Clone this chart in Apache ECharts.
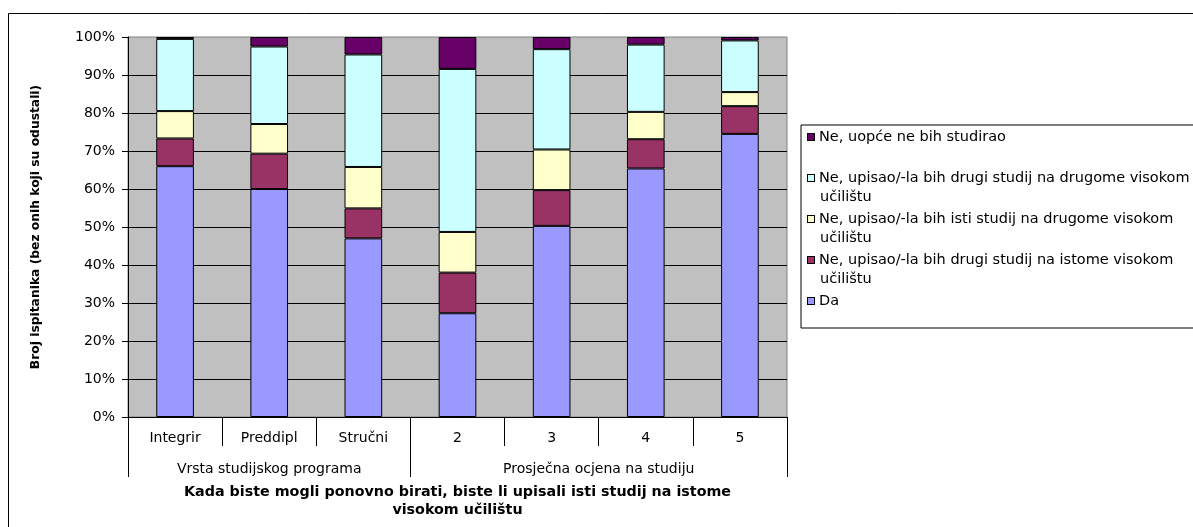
<!DOCTYPE html>
<html><head><meta charset="utf-8">
<script src="https://cdn.jsdelivr.net/npm/echarts@6/dist/echarts.min.js"></script>
<style>html,body{margin:0;padding:0;background:#fff}#c{width:1193px;height:527px}</style>
</head><body><div id="c"></div>
<script>
const categories = ['Integrir', 'Preddipl', 'Stručni', '2', '3', '4', '5'];
const groupNames = ['Vrsta studijskog programa', 'Prosječna ocjena na studiju'];
const groupSizes = [3, 4];

const seriesNames = [
  'Da',
  'Ne, upisao/-la bih drugi studij na istome visokom\nučilištu',
  'Ne, upisao/-la bih isti studij na drugome visokom\nučilištu',
  'Ne, upisao/-la bih drugi studij na drugome visokom\nučilištu',
  'Ne, uopće ne bih studirao'
];
const colors = ['#9999FF', '#993366', '#FFFFCC', '#CCFFFF', '#660066'];

const da         = [66.0, 60.0, 47.0, 27.3, 50.3, 65.4, 74.5];
const drugiIsto  = [7.3, 9.3, 7.9, 10.7, 9.4, 7.7, 7.3];
const istiDrugo  = [7.2, 7.8, 10.9, 10.7, 10.7, 7.2, 3.7];
const drugiDrugo = [19.0, 20.4, 29.6, 42.9, 26.4, 17.7, 13.6];
const uopce      = [0.5, 2.5, 4.6, 8.4, 3.2, 2.0, 0.9];
const seriesData = [da, drugiIsto, istiDrugo, drugiDrugo, uopce];

const yAxisTitle = 'Broj ispitanika (bez onih koji su odustali)';
const xAxisTitle = 'Kada biste mogli ponovno birati, biste li upisali isti studij na istome\nvisokom učilištu';

const FONT = 'DejaVu Sans';

// group boundaries / centers on a 0..N value scale
const bounds = [0];
groupSizes.forEach(s => bounds.push(bounds[bounds.length - 1] + s));
const centers = groupSizes.map((s, i) => bounds[i] + s / 2);

const rich = {
  t: {fontFamily: FONT, fontSize: 14.5, color: '#000', lineHeight: 19},
  sp: {width: 5, lineHeight: 19},
  ind: {width: 12, lineHeight: 19}
};
colors.forEach((c, i) => {
  rich['m' + i] = {width: 6, height: 6, backgroundColor: c, borderColor: '#000', borderWidth: 1, lineHeight: 19};
});

const chart = echarts.init(document.getElementById('c'), null, {renderer: 'canvas'});
chart.setOption({
  animation: false,
  textStyle: {fontFamily: FONT},
  graphic: [{
    type: 'rect', silent: true, z: -10,
    shape: {x: 8.5, y: 13.5, width: 1300, height: 700},
    style: {fill: 'none', stroke: '#000', lineWidth: 1}
  }],
  grid: {
    left: 128, top: 37, width: 659, height: 380,
    show: true, backgroundColor: '#C0C0C0', borderColor: '#808080', borderWidth: 1,
    outerBoundsMode: 'none'
  },
  legend: {
    orient: 'vertical', left: 801, top: 125,
    padding: [2.5, 200, 17.5, 2],
    itemGap: 3, itemWidth: 0, itemHeight: 0, icon: 'none',
    selectedMode: false,
    borderColor: '#000', borderWidth: 1, borderRadius: 0,
    data: seriesNames.slice().reverse(),
    formatter: function (name) {
      const i = seriesNames.indexOf(name);
      const lines = name.split('\n');
      let s = '{m' + i + '|}{sp|}{t|' + lines[0] + '}';
      if (lines.length > 1) s += '\n{ind|}{t|' + lines[1] + '}';
      else if (i !== 0) s += '\n{t| }';
      return s;
    },
    textStyle: {fontFamily: FONT, fontSize: 14.5, color: '#000', lineHeight: 19, rich: rich}
  },
  xAxis: [{
    type: 'category', data: categories,
    axisLine: {show: true, lineStyle: {color: '#000', width: 1}},
    axisTick: {show: true, interval: 0, length: 29, lineStyle: {color: '#000'}},
    axisLabel: {interval: 0, margin: 14, color: '#000', fontSize: 14, fontFamily: FONT},
    splitLine: {show: false},
    name: xAxisTitle, nameLocation: 'middle', nameGap: 66,
    nameTextStyle: {fontFamily: FONT, fontWeight: 'bold', fontSize: 14.3, color: '#000', lineHeight: 18}
  }, {
    type: 'value', min: 0, max: categories.length, position: 'bottom',
    axisLine: {show: false},
    splitLine: {show: false},
    axisTick: {show: true, customValues: bounds, length: 60, lineStyle: {color: '#000'}},
    axisLabel: {
      show: true, customValues: centers, margin: 45, color: '#000', fontSize: 14, fontFamily: FONT,
      formatter: function (v) {
        for (let i = 0; i < centers.length; i++) if (Math.abs(v - centers[i]) < 1e-6) return groupNames[i];
        return '';
      }
    }
  }],
  yAxis: {
    type: 'value', min: 0, max: 100, interval: 10,
    axisLine: {show: true, lineStyle: {color: '#000'}},
    axisTick: {show: true, length: 6, lineStyle: {color: '#000'}},
    axisLabel: {formatter: '{value}%', color: '#000', fontSize: 14, fontFamily: FONT, margin: 13},
    splitLine: {show: true, showMaxLine: false, lineStyle: {color: '#000', width: 1}},
    name: yAxisTitle, nameLocation: 'middle', nameGap: 86, nameRotate: 90,
    nameTextStyle: {fontFamily: FONT, fontWeight: 'bold', fontSize: 12.3, color: '#000'}
  },
  series: seriesNames.map((n, i) => ({
    name: n, type: 'bar', stack: 'total', data: seriesData[i],
    barCategoryGap: '60%',
    itemStyle: {color: colors[i], borderColor: '#000', borderWidth: 1},
    emphasis: {disabled: true}
  }))
});
</script>
</body></html>
